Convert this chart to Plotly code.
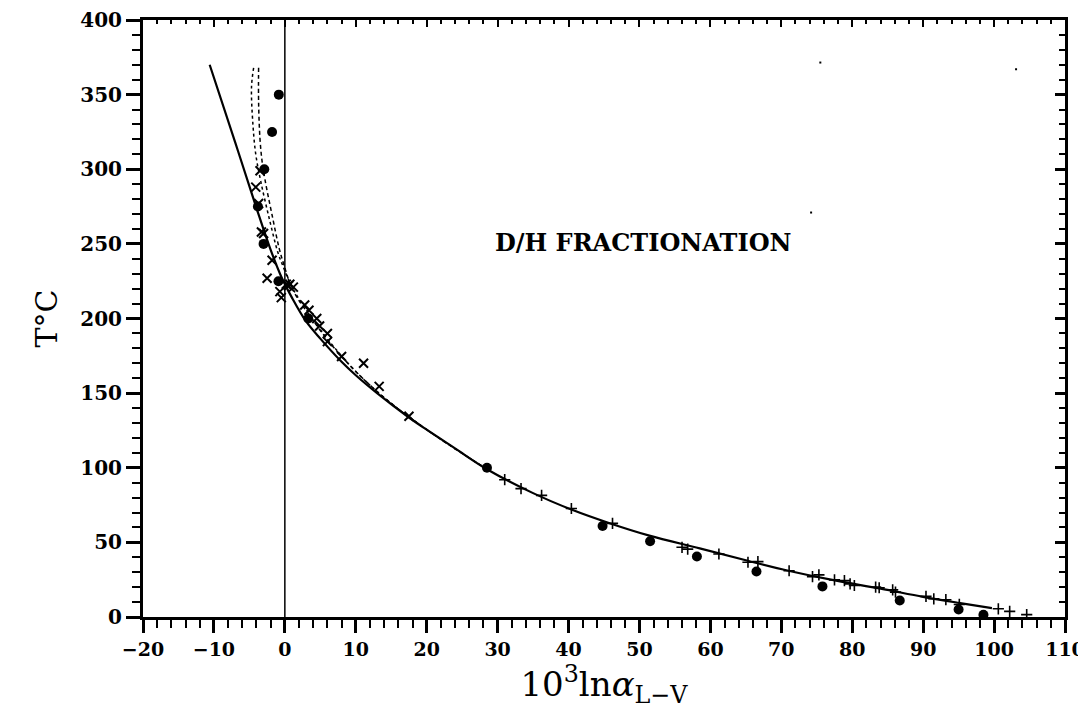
import plotly.graph_objects as go

# curves (x = 10^3 ln alpha, y = T in C)
solid_x = [-10.6, -7, -4, -2, -0.5, 1, 3, 5, 8, 10, 13, 17.4, 20, 24, 28.5, 35, 40.4, 46, 51.4, 58.5, 65, 71, 77, 84, 90, 95, 99.7]
solid_y = [370, 318, 274, 246, 228, 214, 198, 186.5, 171, 162, 150, 134, 125.5, 113, 99, 83, 72, 62.5, 54.5, 46, 38, 31, 25, 19, 13.5, 9.5, 6]

dash_x = [-3.7, -3.7, -3.5, -3.2, -2.8, -1.7, -0.8, -0.1, 0.85, 2, 3.5, 5, 7, 10, 14, 20, 28.5]
dash_y = [368, 345, 320, 305, 293, 267, 247, 235.5, 222, 212, 202, 192, 180, 164.5, 147, 125.5, 99]

dot_x = [-4.4, -4.7, -4.5, -4.1, -3.4, -2.2, -1.0, -0.3, 0.7, 2, 3.5, 5, 7, 10, 14, 20, 28.5]
dot_y = [368, 355, 330, 310, 292, 267, 244.5, 235.5, 224, 213, 203, 192.5, 180.5, 164.5, 147, 125.5, 99]

# filled circles
circ_x = [-0.85, -1.8, -2.9, -3.8, -3.0, -0.9, 3.3, 28.5, 44.8, 51.5, 58.1, 66.5, 75.8, 86.7, 95, 98.5]
circ_y = [350, 325, 300, 275, 250, 225, 200, 100, 61, 50.7, 40.5, 30.5, 20.5, 11, 5, 1.5]

# crosses (x)
xm_x = [-3.5, -4.1, -3.7, -3.3, -3.0, -1.8, -2.5, 0.2, 0.5, -0.7, -0.5, 0.7, 1.2, 2.8, 3.4, 4.5, 4.9, 6.0, 6.0, 8.0, 11.1, 13.3, 17.5]
xm_y = [299, 288, 277, 258, 257, 239, 227, 223, 222, 218, 214, 223, 221, 209, 205.5, 200, 195, 190, 184.5, 174.5, 170, 154.5, 134.5]

# pluses (+)
pl_x = [31, 33.3, 36.2, 40.4, 46.2, 56, 56.8, 61.2, 65.3, 66.7, 71.1, 74.4, 75.3, 77.5, 78.9, 79.7, 80.3, 83.3, 83.8, 85.7, 86.1, 90.4, 91.5, 93.2, 95.1, 100.6, 102.2, 104.6]
pl_y = [92, 86, 81.5, 72.7, 62.7, 46.7, 45.5, 42.2, 36.7, 37.1, 31, 27, 28.2, 24.9, 24.4, 22.2, 21.1, 20, 19.6, 18.2, 16.7, 13.8, 12.2, 11.6, 8.4, 5.5, 3.8, 1.6]

# small specks on the scan
speck_x = [75.5, 103.1, 74.2]
speck_y = [371.5, 367, 271]

serif = "DejaVu Serif"

fig = go.Figure()

# vertical line at x = 0
fig.add_trace(go.Scatter(x=[0, 0], y=[0, 400], mode="lines",
                         line=dict(color="black", width=1.5), showlegend=False))

fig.add_trace(go.Scatter(x=dot_x, y=dot_y, mode="lines", line_shape="spline",
                         line=dict(color="black", width=1.5, dash="dot"), showlegend=False))
fig.add_trace(go.Scatter(x=dash_x, y=dash_y, mode="lines", line_shape="spline",
                         line=dict(color="black", width=1.5, dash="4px,3px"), showlegend=False))
fig.add_trace(go.Scatter(x=solid_x, y=solid_y, mode="lines", line_shape="spline",
                         line=dict(color="black", width=2.2), showlegend=False))

fig.add_trace(go.Scatter(x=circ_x, y=circ_y, mode="markers",
                         marker=dict(symbol="circle", size=10, color="black"), showlegend=False))
fig.add_trace(go.Scatter(x=xm_x, y=xm_y, mode="markers",
                         marker=dict(symbol="x-thin", size=9, line=dict(color="black", width=2)),
                         showlegend=False))
fig.add_trace(go.Scatter(x=pl_x, y=pl_y, mode="markers",
                         marker=dict(symbol="cross-thin", size=8, line=dict(color="black", width=1.6)),
                         showlegend=False))
fig.add_trace(go.Scatter(x=speck_x, y=speck_y, mode="markers",
                         marker=dict(symbol="square", size=2, color="black"), showlegend=False))

# invisible trace so the mirrored top/right axes get drawn
fig.add_trace(go.Scatter(x=[-20], y=[0], xaxis="x2", yaxis="y2", mode="markers",
                         marker=dict(opacity=0), showlegend=False, hoverinfo="skip"))

fig.add_annotation(x=50.5, y=251, text="D/H FRACTIONATION", showarrow=False,
                   font=dict(family=serif, size=24, color="black", weight="bold"))

# page body adds an 8px offset, so margins are set to land the frame where the reference has it
fig.update_layout(
    width=1086, height=717,
    margin=dict(l=135, r=29, t=12, b=108),
    paper_bgcolor="white", plot_bgcolor="white",
    font=dict(family=serif, color="black"),
    xaxis=dict(range=[-20, 110], tickmode="linear", tick0=-20, dtick=10, automargin=False,
               ticks="outside", ticklen=13, tickwidth=2.5, tickcolor="black",
               minor=dict(dtick=2, ticks="outside", ticklen=8, tickwidth=2, tickcolor="black"),
               showline=True, linewidth=3, linecolor="black", showgrid=False, zeroline=False,
               tickfont=dict(family=serif, size=19, weight="bold"),
               title=dict(text="10<sup>3</sup>ln<i>α</i><sub>L−V</sub>",
                          font=dict(family=serif, size=34), standoff=4)),
    yaxis=dict(range=[0, 400], tickmode="linear", tick0=0, dtick=50, automargin=False,
               ticks="outside", ticklen=14, tickwidth=2.5, tickcolor="black",
               minor=dict(dtick=10, ticks="outside", ticklen=8, tickwidth=2, tickcolor="black"),
               showline=True, linewidth=3, linecolor="black", showgrid=False, zeroline=False,
               tickfont=dict(family=serif, size=20, weight="bold"),
               title=dict(text="T°C", font=dict(family=serif, size=30), standoff=14)),
    xaxis2=dict(range=[-20, 110], overlaying="x", side="top", tickmode="linear", tick0=-20, dtick=10,
                ticks="inside", ticklen=7, tickwidth=2, tickcolor="black", automargin=False,
                minor=dict(dtick=2, ticks="inside", ticklen=4, tickwidth=1.5, tickcolor="black"),
                showticklabels=False, showline=True, linewidth=2.5, linecolor="black",
                showgrid=False, zeroline=False),
    yaxis2=dict(range=[0, 400], overlaying="y", side="right", tickmode="linear", tick0=0, dtick=50,
                ticks="inside", ticklen=10, tickwidth=2.5, tickcolor="black", automargin=False,
                minor=dict(dtick=10, ticks="inside", ticklen=6, tickwidth=2, tickcolor="black"),
                showticklabels=False, showline=True, linewidth=3, linecolor="black",
                showgrid=False, zeroline=False),
)

fig.write_html("out.html")
